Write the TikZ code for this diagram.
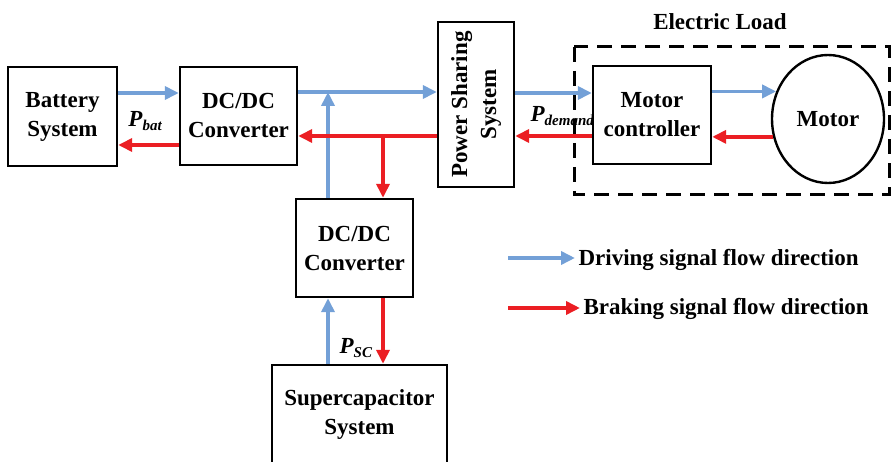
\documentclass[tikz,border=0pt]{standalone}
\usepackage{fontspec}
\setmainfont{Liberation Serif}
\usetikzlibrary{arrows.meta,shapes.geometric}
\definecolor{drvblue}{RGB}{115,160,215}
\definecolor{brkred}{RGB}{235,30,35}
\newcommand{\pwrlabel}[2]{\textit{#1}\raisebox{-0.35ex}{\fontsize{15}{15}\selectfont\bfseries\itshape #2}}

\begin{document}
\begin{tikzpicture}[x=1pt, y=-1pt, font=\fontsize{23}{29}\selectfont\bfseries,
    blk/.style={draw, line width=2.4pt, fill=white, align=center, inner sep=0pt},
    drv/.style={draw=drvblue, line width=3.5pt, -{Triangle[length=14pt,width=13pt]}},
    brk/.style={draw=brkred, line width=3.5pt, -{Triangle[length=14pt,width=13pt]}}]
    \clip (0,0) rectangle (891,462);

    % electric load frame
    \draw[line width=3pt, dash pattern=on 15pt off 9pt] (574,47) rectangle (889,195);
    \node (load) at (720,22) {Electric Load};

    \node[anchor=west] (pdem) at (527,116) {\pwrlabel{P}{demand}};

    \node[blk, minimum width=109pt, minimum height=99pt] (batt) at (62.5,116.5) {Battery\\System};
    \node[blk, minimum width=117pt, minimum height=98pt] (dcA) at (238.5,116) {DC/DC\\Converter};
    \node[blk, rotate=90, minimum width=165pt, minimum height=76pt] (pss) at (476,104.5) {Power Sharing\\System};
    \node[blk, minimum width=118pt, minimum height=98pt] (ctrl) at (652,115) {Motor\\controller};
    \node[blk, ellipse, minimum width=112pt, minimum height=128pt] (motor) at (828,119) {Motor};
    \node[blk, minimum width=117pt, minimum height=98pt] (dcB) at (354.5,248) {DC/DC\\Converter};
    \node[blk, minimum width=175pt, minimum height=100pt] (sc) at (359.5,415) {Supercapacitor\\System};

    \node (pbat) at (145,121) {\pwrlabel{P}{bat}};
    \node[anchor=west] (psc) at (336,348) {\pwrlabel{P}{SC}};

    \coordinate (jD) at (328,92);
    \coordinate (jB) at (383,136);

    % driving flow
    \draw[drv] (batt.east |- 0,93) -- (dcA.west |- 0,93);
    \draw[drv] (dcA.east |- jD) -- (pss.north |- jD);
    \draw[drv] (dcB.north -| jD) -- (jD);
    \draw[drv] (sc.north -| jD) -- (dcB.south -| jD);
    \draw[drv] (pss.south |- 0,93) -- (ctrl.west |- 0,93);
    \draw[drv] (ctrl.east |- motor.152) -- (motor.152);

    % braking flow
    \draw[brk] (dcA.west |- 0,145) -- (batt.east |- 0,145);
    \draw[brk] (pss.north |- jB) -- (dcA.east |- jB);
    \draw[brk] (jB) -- (dcB.north -| jB);
    \draw[brk] (dcB.south -| jB) -- (sc.north -| jB);
    \draw[brk] (ctrl.west |- jB) -- (pss.south |- jB);
    \draw[brk] (motor.198) -- (ctrl.east |- motor.198);

    % legend
    \coordinate (lgD) at (508,258);
    \coordinate (lgB) at (508,308);
    \node[anchor=west] (txtD) at (575,260) {Driving signal flow direction};
    \node[anchor=west] (txtB) at (580,309) {Braking signal flow direction};
    \draw[drv] (lgD) -- (txtD.west |- lgD);
    \draw[brk] (lgB) -- (txtB.west |- lgB);
\end{tikzpicture}
\end{document}
